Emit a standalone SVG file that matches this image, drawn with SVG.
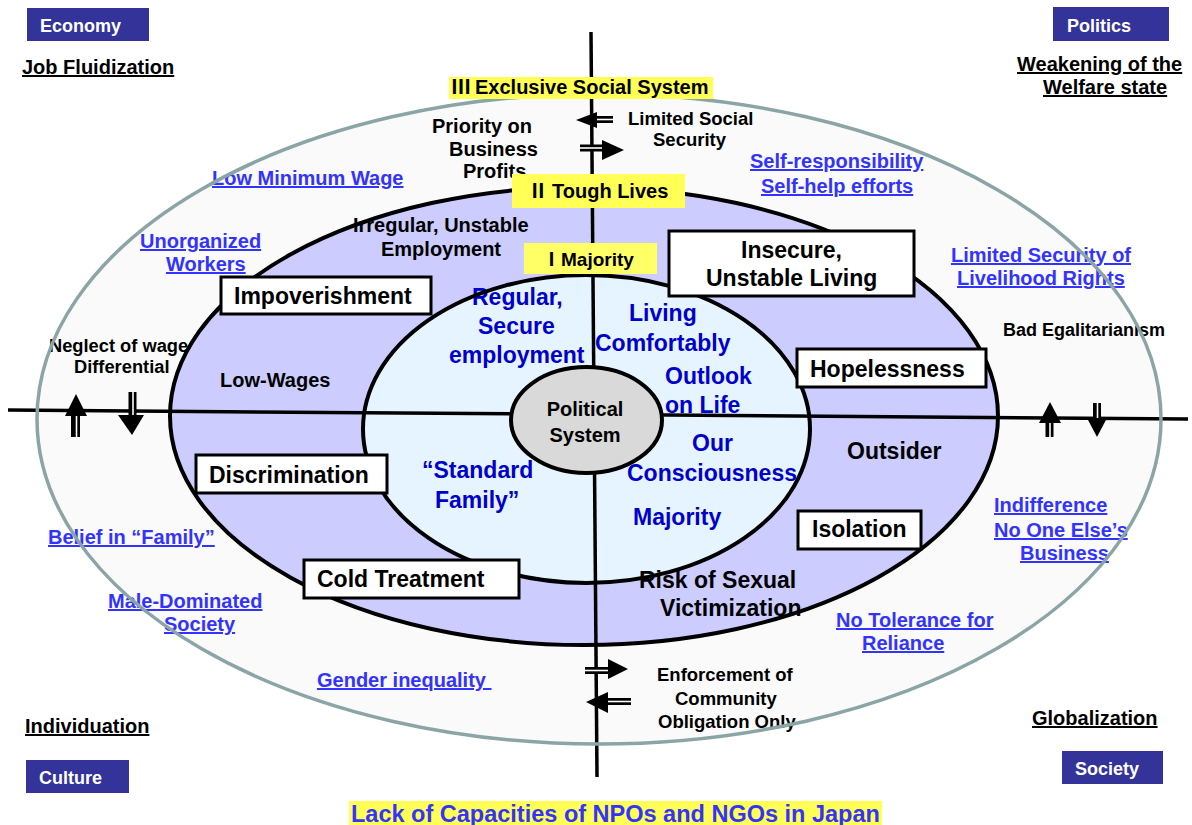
<svg xmlns="http://www.w3.org/2000/svg" width="1192" height="825" viewBox="0 0 1192 825">
<style>
text{font-family:"Liberation Sans",Arial,"Noto Sans CJK JP",sans-serif;font-weight:bold;}
.k{fill:#000;font-size:20px}
.ks{fill:#000;font-size:18.5px}
.ul{fill:#000;font-size:20px;text-decoration:underline}
.u{fill:#3333ff;font-size:20px;text-decoration:underline}
.in{fill:#0000cc;font-size:23px}
.bt{fill:#000;font-size:23px}
.cat{fill:#fff;font-size:18px}
.catbox{fill:#333399}
.box{fill:#fff;stroke:#000;stroke-width:3}
.ylw{fill:#ffff55}
.rn{font-family:"Noto Sans CJK JP","Noto Sans CJK SC",sans-serif;font-weight:bold}
.ax{stroke:#000;stroke-width:3.5;fill:none}
.head{fill:#000}
.shaft{fill:#000}
.gap{stroke:#fff;stroke-width:1.6}
.ring{fill:none;stroke:#000;stroke-width:4}
</style>
<rect x="0" y="0" width="1192" height="825" fill="#fff"/>

<g id="ring-fills">
  <ellipse cx="599" cy="419" rx="562" ry="325" fill="#fafafa"/>
  <ellipse cx="584" cy="416" rx="414" ry="229" fill="#ccccff"/>
  <ellipse cx="586.5" cy="429" rx="223.5" ry="154" fill="#e6f4ff"/>
</g>

<g id="connectors">
  <line class="ax" x1="591" y1="32" x2="597" y2="777"/>
  <line class="ax" x1="8" y1="410" x2="1188" y2="419"/>
  <!-- top arrows -->
  <rect class="shaft" x="596" y="116" width="17" height="7"/>
  <line class="gap" x1="597" y1="119.5" x2="613" y2="119.5"/>
  <polygon class="head" points="576,120 597,112 597,128"/>
  <rect class="shaft" x="580" y="144.5" width="23" height="7"/>
  <line class="gap" x1="580" y1="148" x2="602" y2="148"/>
  <polygon class="head" points="602,140 624,150 602,160"/>
  <!-- left arrows -->
  <rect class="shaft" x="71" y="415" width="9" height="22"/>
  <line class="gap" x1="76.5" y1="416" x2="76.5" y2="437"/>
  <polygon class="head" points="76,394 65,416 87,416"/>
  <rect class="shaft" x="128.5" y="392" width="8" height="24"/>
  <line class="gap" x1="133" y1="392" x2="133" y2="415"/>
  <polygon class="head" points="118,415 144,415 132,435"/>
  <!-- right arrows -->
  <rect class="shaft" x="1045.5" y="422" width="8" height="15"/>
  <line class="gap" x1="1050" y1="423" x2="1050" y2="437"/>
  <polygon class="head" points="1050,402 1039,423 1061,423"/>
  <rect class="shaft" x="1093" y="403" width="8" height="16"/>
  <line class="gap" x1="1097.5" y1="403" x2="1097.5" y2="418"/>
  <polygon class="head" points="1087,418 1107,418 1097,437"/>
  <!-- bottom arrows -->
  <rect class="shaft" x="585" y="667" width="24" height="7"/>
  <line class="gap" x1="585" y1="670.5" x2="608" y2="670.5"/>
  <polygon class="head" points="608,659 628,669 608,679"/>
  <rect class="shaft" x="607" y="698" width="24" height="7"/>
  <line class="gap" x1="608" y1="701.5" x2="631" y2="701.5"/>
  <polygon class="head" points="586,702 608,692 608,713"/>
</g>

<g id="labels-black">
  <text class="k"><tspan x="432" y="133">Priority on</tspan><tspan x="449" y="156">Business</tspan><tspan x="463" y="178">Profits</tspan></text>
  <text class="ks"><tspan x="628" y="125">Limited Social</tspan><tspan x="653" y="146">Security</tspan></text>
  <text class="k"><tspan x="353" y="232">Irregular, Unstable</tspan><tspan x="381" y="256">Employment</tspan></text>
  <text class="ks" style="font-size:18.3px"><tspan x="49" y="352">Neglect of wage</tspan><tspan x="74" y="373">Differential</tspan></text>
  <text class="k" x="220" y="387">Low-Wages</text>
  <text class="ks" style="font-size:18px" x="1003" y="336">Bad Egalitarianism</text>
  <text class="bt" x="847" y="459">Outsider</text>
  <text class="bt"><tspan x="639" y="588">Risk of Sexual</tspan><tspan x="660" y="616">Victimization</tspan></text>
  <text class="ks"><tspan x="657" y="681">Enforcement of</tspan><tspan x="675" y="705">Community</tspan><tspan x="658" y="728">Obligation Only</tspan></text>
</g>

<g id="labels-inner">
  <text class="in"><tspan x="472" y="305">Regular,</tspan><tspan x="478" y="334">Secure</tspan><tspan x="449" y="363">employment</tspan></text>
  <text class="in"><tspan x="629" y="321">Living</tspan><tspan x="595" y="351">Comfortably</tspan></text>
  <text class="in"><tspan x="665" y="384">Outlook</tspan><tspan x="665" y="413">on Life</tspan></text>
  <text class="in"><tspan x="692" y="451">Our</tspan><tspan x="627" y="481">Consciousness</tspan></text>
  <text class="in"><tspan x="422" y="478">“Standard</tspan><tspan x="435" y="508">Family”</tspan></text>
  <text class="in" x="633" y="525">Majority</text>
</g>

<g id="labels-blue">
  <text class="u" x="212" y="185">Low Minimum Wage</text>
  <text class="u"><tspan x="140" y="248">Unorganized</tspan><tspan x="166" y="271">Workers</tspan></text>
  <text class="u"><tspan x="750" y="168">Self-responsibility</tspan><tspan x="761" y="193">Self-help efforts</tspan></text>
  <text class="u"><tspan x="951" y="262">Limited Security of</tspan><tspan x="957" y="285">Livelihood Rights</tspan></text>
  <text class="u"><tspan x="994" y="512">Indifference</tspan><tspan x="994" y="537">No One Else’s</tspan><tspan x="1020" y="560">Business</tspan></text>
  <text class="u" x="48" y="544">Belief in “Family”</text>
  <text class="u"><tspan x="108" y="608">Male-Dominated</tspan><tspan x="164" y="631">Society</tspan></text>
  <text class="u"><tspan x="836" y="627">No Tolerance for</tspan><tspan x="862" y="650">Reliance</tspan></text>
  <text class="u" x="317" y="687">Gender inequality&#160;</text>
</g>

<g id="ring-strokes">
  <ellipse cx="599" cy="419" rx="562" ry="325" fill="none" stroke="#8ba5a7" stroke-width="3.5"/>
  <ellipse class="ring" cx="584" cy="416" rx="414" ry="229"/>
  <ellipse class="ring" cx="586.5" cy="429" rx="223.5" ry="154"/>
</g>

<g id="political-system">
  <ellipse cx="586.5" cy="420" rx="75.5" ry="53" fill="#d9d9d9" stroke="#000" stroke-width="4"/>
  <text class="k" text-anchor="middle"><tspan x="585" y="416">Political</tspan><tspan x="585" y="442">System</tspan></text>
</g>

<g id="impoverishment"><rect class="box" x="221" y="277" width="210" height="37"/><text class="bt" x="234" y="304">Impoverishment</text></g>
<g id="insecure"><rect class="box" x="669" y="231" width="245" height="65"/><text class="bt"><tspan x="741" y="258">Insecure,</tspan><tspan x="706" y="286">Unstable Living</tspan></text></g>
<g id="hopelessness"><rect class="box" x="797" y="349" width="189" height="38"/><text class="bt" x="810" y="377">Hopelessness</text></g>
<g id="discrimination"><rect class="box" x="196" y="455" width="191" height="38"/><text class="bt" x="209" y="483">Discrimination</text></g>
<g id="isolation"><rect class="box" x="798" y="511" width="123" height="38"/><text class="bt" x="812" y="537">Isolation</text></g>
<g id="cold-treatment"><rect class="box" x="304" y="560" width="215" height="38"/><text class="bt" x="317" y="587">Cold Treatment</text></g>

<g id="level-3"><rect class="ylw" x="449" y="77" width="264" height="22"/><text class="k" y="94"><tspan class="rn" x="451">Ⅲ</tspan><tspan x="475">Exclusive Social System</tspan></text></g>
<g id="level-2"><rect class="ylw" x="512" y="174" width="173" height="34"/><text class="k" y="198"><tspan class="rn" x="528">Ⅱ</tspan><tspan x="552">Tough Lives</tspan></text></g>
<g id="level-1"><rect class="ylw" x="524" y="243" width="133" height="31" style="fill:#ffff66"/><text class="k" style="font-size:19px" y="266"><tspan class="rn" x="542">Ⅰ</tspan><tspan x="561">Majority</tspan></text></g>

<g id="economy"><rect class="catbox" x="27" y="8" width="122" height="33"/><text class="cat" x="40" y="32">Economy</text></g>
<g id="politics"><rect class="catbox" x="1053" y="7" width="116" height="34"/><text class="cat" x="1067" y="32">Politics</text></g>
<g id="culture"><rect class="catbox" x="26" y="760" width="103" height="33"/><text class="cat" x="39" y="784">Culture</text></g>
<g id="society"><rect class="catbox" x="1062" y="751" width="101" height="33"/><text class="cat" x="1075" y="775">Society</text></g>

<g id="headers">
  <text class="ul" x="22" y="74">Job Fluidization</text>
  <text class="ul"><tspan x="1017" y="71">Weakening of the</tspan><tspan x="1043" y="94">Welfare state</tspan></text>
  <text class="ul" x="25" y="733">Individuation</text>
  <text class="ul" x="1032" y="725">Globalization</text>
</g>

<g id="banner"><rect class="ylw" x="349" y="801" width="533" height="24"/><text x="351" y="822" style="fill:#3333ff;font-size:23.5px">Lack of Capacities of NPOs and NGOs in Japan</text></g>
</svg>
